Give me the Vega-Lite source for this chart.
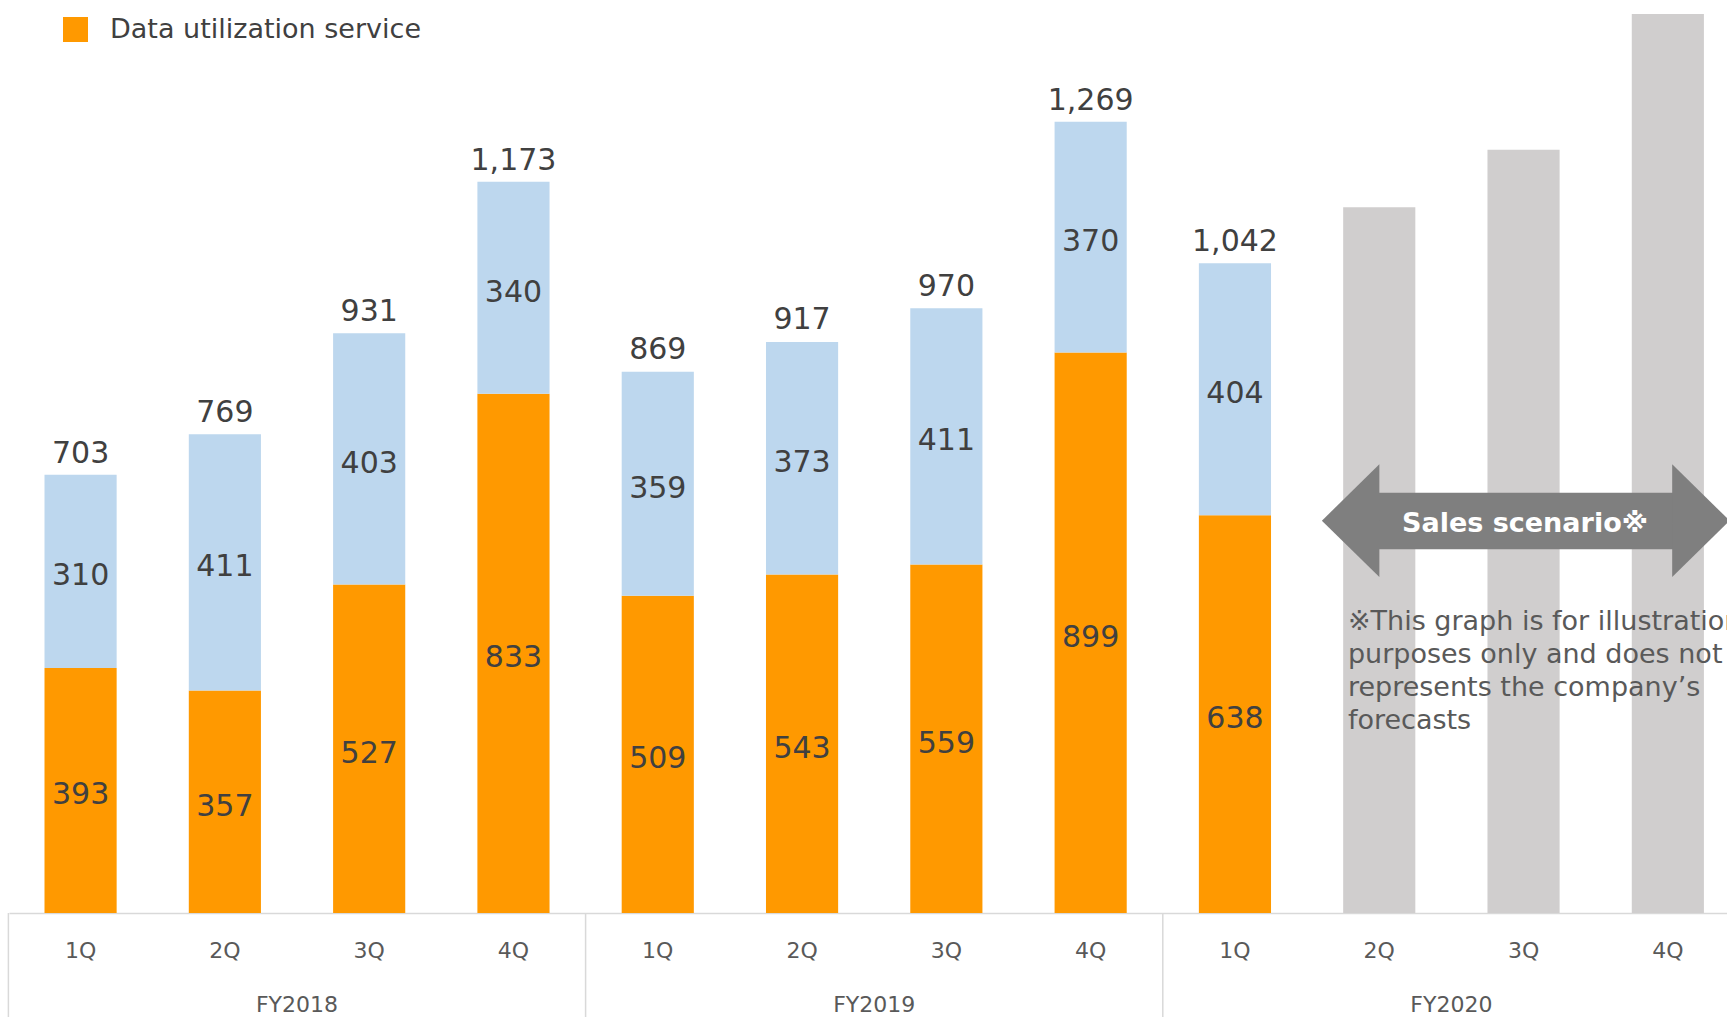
{
  "$schema": "https://vega.github.io/schema/vega-lite/v6.json",
  "width": 1718,
  "height": 908,
  "autosize": "none",
  "padding": {"left": 9, "top": 5, "right": 0, "bottom": 104},
  "config": {"view": {"stroke": null}, "font": "DejaVu Sans"},
  "datasets": {
    "segments": [
      {"key": "FY2018 1Q", "segment": "Data utilization service", "value": 393},
      {"key": "FY2018 1Q", "segment": "Other services", "value": 310},
      {"key": "FY2018 2Q", "segment": "Data utilization service", "value": 357},
      {"key": "FY2018 2Q", "segment": "Other services", "value": 411},
      {"key": "FY2018 3Q", "segment": "Data utilization service", "value": 527},
      {"key": "FY2018 3Q", "segment": "Other services", "value": 403},
      {"key": "FY2018 4Q", "segment": "Data utilization service", "value": 833},
      {"key": "FY2018 4Q", "segment": "Other services", "value": 340},
      {"key": "FY2019 1Q", "segment": "Data utilization service", "value": 509},
      {"key": "FY2019 1Q", "segment": "Other services", "value": 359},
      {"key": "FY2019 2Q", "segment": "Data utilization service", "value": 543},
      {"key": "FY2019 2Q", "segment": "Other services", "value": 373},
      {"key": "FY2019 3Q", "segment": "Data utilization service", "value": 559},
      {"key": "FY2019 3Q", "segment": "Other services", "value": 411},
      {"key": "FY2019 4Q", "segment": "Data utilization service", "value": 899},
      {"key": "FY2019 4Q", "segment": "Other services", "value": 370},
      {"key": "FY2020 1Q", "segment": "Data utilization service", "value": 638},
      {"key": "FY2020 1Q", "segment": "Other services", "value": 404},
      {"key": "FY2020 2Q", "segment": "Sales scenario", "value": 1132},
      {"key": "FY2020 3Q", "segment": "Sales scenario", "value": 1224},
      {"key": "FY2020 4Q", "segment": "Sales scenario", "value": 1442}
    ],
    "totals": [
      {"key": "FY2018 1Q", "total": 703},
      {"key": "FY2018 2Q", "total": 769},
      {"key": "FY2018 3Q", "total": 931},
      {"key": "FY2018 4Q", "total": 1173},
      {"key": "FY2019 1Q", "total": 869},
      {"key": "FY2019 2Q", "total": 917},
      {"key": "FY2019 3Q", "total": 970},
      {"key": "FY2019 4Q", "total": 1269},
      {"key": "FY2020 1Q", "total": 1042}
    ],
    "shaft": [
      {"from": 8.99, "to": 11.04, "top": 674.1, "bottom": 583.3}
    ],
    "heads": [
      {"pos": 8.993, "mid": 629.2, "dir": "left"},
      {"pos": 11.038, "mid": 629.2, "dir": "right"}
    ],
    "fy": [
      {"fy": "FY2018", "pos": 1.5},
      {"fy": "FY2019", "pos": 5.5},
      {"fy": "FY2020", "pos": 9.5}
    ],
    "separators": [
      {"pos": -0.5},
      {"pos": 3.5},
      {"pos": 7.5}
    ],
    "labels": [
      {"pos": 10.01, "y": 624, "text": "Sales scenario※"}
    ],
    "note": [
      {"pos": 8.783, "y": 453.9, "text": ["※This graph is for illustration", "purposes only and does not", "represents the company’s", "forecasts"]}
    ]
  },
  "layer": [
    {
      "layer": [
        {
          "data": {"name": "segments"},
          "mark": {"type": "bar"},
          "encoding": {
            "x": {
              "field": "key", "type": "nominal", "sort": null,
              "scale": {
                "domain": ["FY2018 1Q","FY2018 2Q","FY2018 3Q","FY2018 4Q","FY2019 1Q","FY2019 2Q","FY2019 3Q","FY2019 4Q","FY2020 1Q","FY2020 2Q","FY2020 3Q","FY2020 4Q"],
                "paddingInner": 0.5, "paddingOuter": 0.203, "align": 0.606
              },
              "axis": {
                "title": null, "labelExpr": "split(datum.value, ' ')[1]",
                "labelAngle": 0, "labelFontSize": 22, "labelColor": "#595959",
                "labelPadding": 37, "labelBaseline": "middle",
                "ticks": false, "tickSize": 0,
                "domainColor": "#d9d9d9", "domainWidth": 1.5, "grid": false
              }
            },
            "y": {
              "field": "value", "type": "quantitative", "stack": "zero",
              "scale": {"domain": [0, 1456.3], "nice": false}, "axis": null
            },
            "color": {
              "field": "segment", "type": "nominal",
              "scale": {
                "domain": ["Data utilization service", "Other services", "Sales scenario"],
                "range": ["#FF9900", "#BDD7EE", "#D0CECE"]
              },
              "legend": {
                "values": ["Data utilization service"],
                "orient": "none", "legendX": 53, "legendY": 11,
                "title": null, "symbolType": "square", "symbolSize": 625,
                "symbolStrokeWidth": 0, "symbolOpacity": 1,
                "labelFontSize": 27, "labelColor": "#404040",
                "labelOffset": 21, "labelLimit": 0, "padding": 0
              }
            },
            "order": {"field": "segment", "sort": "ascending"}
          }
        },
        {
          "data": {"name": "segments"},
          "transform": [
            {"stack": "value", "groupby": ["key"], "sort": [{"field": "segment", "order": "ascending"}], "as": ["v0", "v1"]},
            {"filter": "datum.segment !== 'Sales scenario'"},
            {"calculate": "(datum.v0 + datum.v1) / 2", "as": "mid"}
          ],
          "mark": {"type": "text", "fontSize": 30, "color": "#404040", "baseline": "middle", "align": "center", "dy": 5},
          "encoding": {
            "x": {"field": "key", "type": "nominal", "sort": null},
            "y": {"field": "mid", "type": "quantitative", "scale": {"domain": [0, 1456.3], "nice": false}},
            "text": {"field": "value", "type": "quantitative", "format": ","}
          }
        },
        {
          "data": {"name": "totals"},
          "mark": {"type": "text", "fontSize": 30, "color": "#404040", "baseline": "alphabetic", "align": "center", "dy": -12},
          "encoding": {
            "x": {"field": "key", "type": "nominal", "sort": null},
            "y": {"field": "total", "type": "quantitative", "scale": {"domain": [0, 1456.3], "nice": false}},
            "text": {"field": "total", "type": "quantitative", "format": ","}
          }
        }
      ]
    },
    {
      "layer": [
        {
          "data": {"name": "separators"},
          "mark": {"type": "rule", "color": "#d9d9d9", "strokeWidth": 1.5},
          "encoding": {
            "x": {"field": "pos", "type": "quantitative", "scale": {"domain": [-0.4958, 11.41], "nice": false, "zero": false}, "axis": null},
            "y": {"datum": 0, "type": "quantitative", "scale": {"domain": [0, 1456.3], "nice": false}},
            "y2": {"datum": -175}
          }
        },
        {
          "data": {"name": "fy"},
          "mark": {"type": "text", "fontSize": 22, "color": "#595959", "baseline": "middle", "align": "center"},
          "encoding": {
            "x": {"field": "pos", "type": "quantitative", "scale": {"domain": [-0.4958, 11.41], "nice": false, "zero": false}, "axis": null},
            "y": {"datum": -148, "type": "quantitative", "scale": {"domain": [0, 1456.3], "nice": false}},
            "text": {"field": "fy"}
          }
        },
        {
          "data": {"name": "shaft"},
          "mark": {"type": "bar", "color": "#7F7F7F"},
          "encoding": {
            "x": {"field": "from", "type": "quantitative", "scale": {"domain": [-0.4958, 11.41], "nice": false, "zero": false}, "axis": null},
            "x2": {"field": "to"},
            "y": {"field": "top", "type": "quantitative", "scale": {"domain": [0, 1456.3], "nice": false}},
            "y2": {"field": "bottom"}
          }
        },
        {
          "data": {"name": "heads"},
          "mark": {"type": "point", "filled": true, "color": "#7F7F7F", "opacity": 1, "size": 12700, "strokeWidth": 0},
          "encoding": {
            "x": {"field": "pos", "type": "quantitative", "scale": {"domain": [-0.4958, 11.41], "nice": false, "zero": false}, "axis": null},
            "y": {"field": "mid", "type": "quantitative", "scale": {"domain": [0, 1456.3], "nice": false}},
            "shape": {
              "field": "dir", "type": "nominal",
              "scale": {"domain": ["left", "right"], "range": ["M -1 0 L 0.02 -1 L 0.02 1 Z", "M 1 0 L -0.02 -1 L -0.02 1 Z"]},
              "legend": null
            }
          }
        },
        {
          "data": {"name": "labels"},
          "mark": {"type": "text", "fontSize": 27, "fontWeight": "bold", "color": "#ffffff", "baseline": "middle", "align": "center"},
          "encoding": {
            "x": {"field": "pos", "type": "quantitative", "scale": {"domain": [-0.4958, 11.41], "nice": false, "zero": false}, "axis": null},
            "y": {"field": "y", "type": "quantitative", "scale": {"domain": [0, 1456.3], "nice": false}},
            "text": {"field": "text"}
          }
        },
        {
          "data": {"name": "note"},
          "mark": {"type": "text", "fontSize": 27, "color": "#595959", "baseline": "alphabetic", "align": "left", "lineHeight": 33},
          "encoding": {
            "x": {"field": "pos", "type": "quantitative", "scale": {"domain": [-0.4958, 11.41], "nice": false, "zero": false}, "axis": null},
            "y": {"field": "y", "type": "quantitative", "scale": {"domain": [0, 1456.3], "nice": false}},
            "text": {"field": "text"}
          }
        }
      ]
    }
  ],
  "resolve": {"scale": {"x": "independent"}, "axis": {"x": "independent"}}
}
